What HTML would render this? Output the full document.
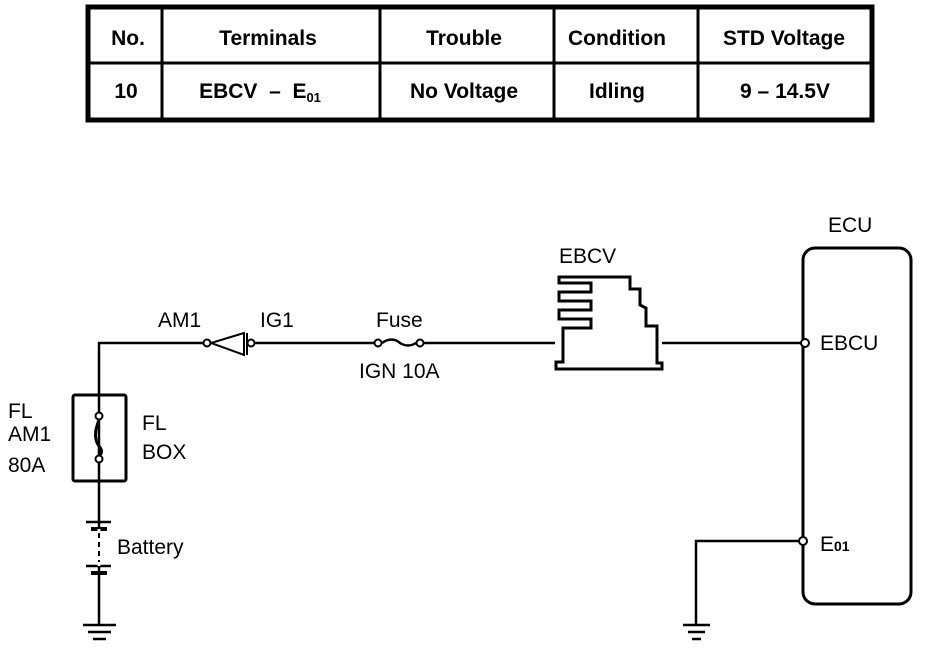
<!DOCTYPE html>
<html><head><style>
body{margin:0;background:#fff;width:928px;height:646px;overflow:hidden}
svg text{font-family:"Liberation Sans",sans-serif;fill:#000}
</style></head><body>
<svg width="928" height="646" viewBox="0 0 928 646" xmlns="http://www.w3.org/2000/svg">
<g stroke="#000" fill="none">
<rect x="88" y="7" width="784" height="113" stroke-width="5"/>
<line x1="88" y1="63" x2="872" y2="63" stroke-width="3"/>
<line x1="162" y1="7" x2="162" y2="120" stroke-width="3"/>
<line x1="380" y1="7" x2="380" y2="120" stroke-width="3"/>
<line x1="554" y1="7" x2="554" y2="120" stroke-width="3"/>
<line x1="698" y1="7" x2="698" y2="120" stroke-width="3"/>
</g>
<g font-weight="bold" font-size="21" text-anchor="middle">
<text x="128" y="45">No.</text><text x="268" y="45">Terminals</text><text x="464" y="45">Trouble</text><text x="617" y="45">Condition</text><text x="784" y="45">STD Voltage</text>
<text x="126" y="98">10</text><text x="260" y="98" xml:space="preserve">EBCV  –  E<tspan font-size="13" dy="4">01</tspan></text><text x="464" y="98">No Voltage</text><text x="617" y="98">Idling</text><text x="785" y="98">9 – 14.5V</text>
</g>
<g stroke="#000" fill="none" stroke-width="2.5">
<polyline points="99,625 99,343 203,343"/>
<line x1="254" y1="343" x2="374" y2="343"/>
<path d="M382,343 Q392,336 400,343 Q408,348 416,343"/>
<line x1="424" y1="343" x2="555" y2="343"/>
<line x1="662" y1="343" x2="801" y2="343"/>
<polyline points="801,541 696,541 696,625"/>
<polygon points="211,343 244,333 244,355" stroke-width="2"/>
<line x1="247" y1="333" x2="247" y2="355" stroke-width="2"/>
<rect x="73" y="395" width="53" height="86" rx="2" stroke-width="3"/>
<path d="M99,420 Q92,437 99,446 Q104,452 99,456" stroke-width="3"/>
<line x1="86" y1="522" x2="111" y2="522"/><line x1="91" y1="529" x2="107" y2="529" stroke-width="4"/>
<line x1="86" y1="566" x2="111" y2="566"/><line x1="91" y1="573" x2="107" y2="573" stroke-width="4"/>
<line x1="83" y1="625" x2="116" y2="625"/><line x1="88" y1="632" x2="111" y2="632"/><line x1="93" y1="639" x2="106" y2="639"/>
<line x1="683" y1="625" x2="710" y2="625"/><line x1="688" y1="632" x2="705" y2="632"/><line x1="692" y1="639" x2="701" y2="639"/>
<rect x="803" y="248" width="108" height="356" rx="12" stroke-width="3"/>
<path d="M556,369 L662,369 L662,363 L657,363 L657,326 L646,326 L646,308 L640,305 L640,289 L630,289 L630,277 L559,277 L559,283 L591,283 L591,292 L559,292 L559,301 L591,301 L591,310 L559,310 L559,319 L591,319 L591,328 L563,328 L563,362 L556,362 Z" stroke-width="3"/>
</g>
<line x1="99" y1="529" x2="99" y2="566" stroke="#fff" stroke-width="3"/>
<line x1="99" y1="533" x2="99" y2="562" stroke="#000" stroke-width="2" stroke-dasharray="5,4"/>
<g stroke="#000" fill="#fff" stroke-width="2">
<circle cx="207" cy="343" r="3.5"/><circle cx="251" cy="343" r="3.5"/>
<circle cx="378" cy="343" r="3.5"/><circle cx="420" cy="343" r="3.5"/>
<circle cx="99" cy="416" r="3.5"/><circle cx="99" cy="459" r="3.5"/>
<circle cx="805" cy="343" r="4"/><circle cx="803" cy="541" r="4"/>
</g>
<g font-size="21">
<text x="158" y="327">AM1</text><text x="260" y="327">IG1</text><text x="376" y="327">Fuse</text>
<text x="359" y="378">IGN 10A</text>
<text x="8" y="418">FL</text><text x="8" y="441">AM1</text><text x="8" y="472">80A</text>
<text x="142" y="430">FL</text><text x="142" y="459">BOX</text>
<text x="117" y="554">Battery</text>
<text x="559" y="263">EBCV</text><text x="828" y="232">ECU</text>
<text x="820" y="350">EBCU</text>
<text x="820" y="551" font-family="Liberation Serif">E<tspan font-size="14" font-weight="bold">01</tspan></text>
</g>
</svg>
</body></html>
